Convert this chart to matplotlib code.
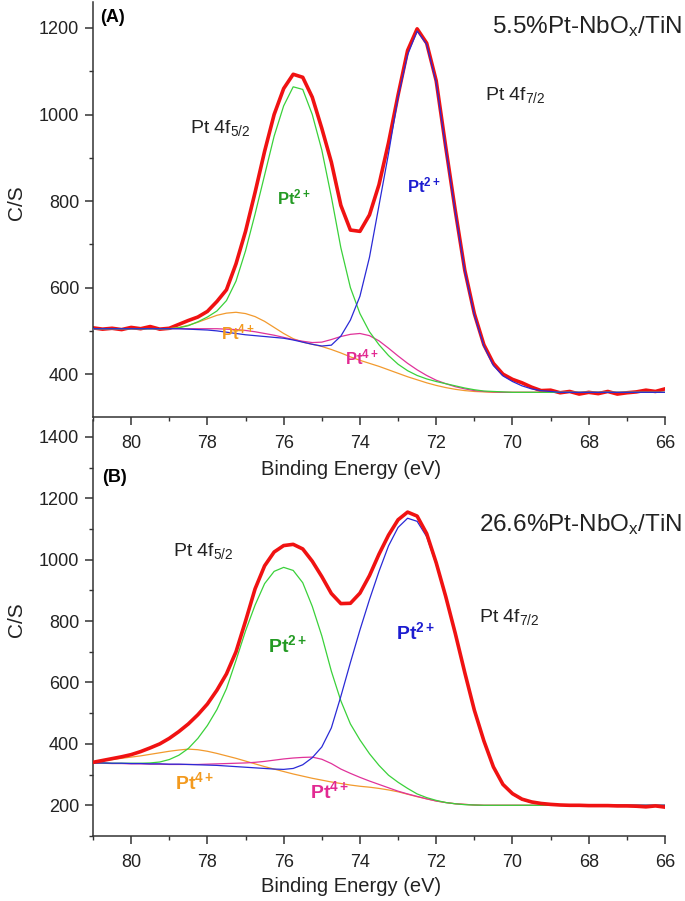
import numpy as np
import matplotlib
matplotlib.use("Agg")
import matplotlib.pyplot as plt
from matplotlib.ticker import MultipleLocator

plt.rcParams['font.family'] = ['Liberation Sans', 'DejaVu Sans']
plt.rcParams['mathtext.fontset'] = 'custom'
plt.rcParams['mathtext.rm'] = 'Liberation Sans'
plt.rcParams['mathtext.it'] = 'Liberation Sans:italic'
plt.rcParams['mathtext.bf'] = 'Liberation Sans:bold'
plt.rcParams['lines.solid_joinstyle'] = 'round'

# binding energy grid (eV), 81 -> 66 in 0.25 steps
energy = np.arange(81, 65.99, -0.25)

# ---- panel A: 5.5%Pt-NbOx/TiN ----
a_total = [507, 504, 506, 503, 508, 505, 510, 504, 506, 515, 524, 532, 545, 568, 595,
           655, 730, 820, 915, 1000, 1060, 1093, 1086, 1040, 968, 890, 790, 733, 730, 768,
           838, 935, 1045, 1148, 1198, 1165, 1078, 925, 778, 640, 540, 468, 425, 400, 388,
           380, 370, 362, 363, 357, 360, 354, 358, 355, 360, 354, 357, 359, 363, 360, 366]
a_pt2_52 = [505, 505, 505, 505, 505, 505, 505, 505, 505, 507, 512, 521, 532, 546, 570,
            615, 685, 770, 860, 950, 1020, 1064, 1058, 1000, 918, 810, 692, 600, 540, 498,
            468, 443, 423, 408, 397, 389, 383, 378, 373, 368, 364, 361, 360, 359, 358,
            358, 358, 358, 358, 358, 358, 358, 358, 358, 358, 358, 358, 358, 358, 358, 358]
a_pt2_72 = [505, 505, 505, 505, 505, 505, 505, 505, 505, 505, 504, 503, 502, 500, 497,
            494, 491, 489, 487, 485, 483, 479, 474, 469, 465, 467, 488, 525, 580, 670,
            790, 910, 1040, 1138, 1193, 1162, 1074, 922, 775, 638, 537, 465, 420, 396, 383,
            373, 366, 362, 360, 358, 358, 358, 358, 358, 358, 358, 358, 358, 358, 358, 358]
a_pt4_52 = [505, 505, 505, 505, 505, 505, 505, 505, 505, 508, 513, 520, 528, 536, 541,
            543, 540, 533, 522, 508, 494, 482, 474, 469, 464, 457, 449, 440, 432, 425,
            418, 410, 402, 394, 387, 380, 374, 369, 365, 362, 360, 359, 358, 358, 358,
            358, 358, 358, 358, 358, 358, 358, 358, 358, 358, 358, 358, 358, 358, 358, 358]
a_pt4_72 = [505, 505, 505, 505, 505, 505, 505, 505, 505, 505, 505, 505, 505, 505, 504,
            503, 501, 498, 494, 490, 485, 480, 476, 473, 474, 480, 487, 492, 494, 489,
            477, 460, 442, 425, 410, 397, 386, 378, 371, 366, 362, 360, 359, 358, 358,
            358, 358, 358, 358, 358, 358, 358, 358, 358, 358, 358, 358, 358, 358, 358, 358]

# ---- panel B: 26.6%Pt-NbOx/TiN ----
b_total = [340, 346, 352, 358, 365, 375, 387, 400, 418, 440, 465, 495, 530, 575, 628,
           700, 800, 905, 980, 1025, 1046, 1050, 1035, 995, 945, 890, 857, 858, 891, 948,
           1018, 1080, 1130, 1155, 1142, 1085, 990, 880, 760, 632, 510, 410, 325, 268, 238,
           220, 211, 206, 203, 201, 200, 200, 199, 199, 199, 198, 198, 197, 195, 198, 194]
b_pt2_52 = [338, 338, 337, 337, 337, 337, 338, 341, 349, 363, 385, 418, 460, 512, 580,
            672, 768, 852, 922, 962, 975, 965, 925, 848, 752, 637, 540, 465, 413, 368,
            330, 298, 275, 255, 237, 225, 216, 209, 205, 202, 201, 200, 200, 200, 200,
            200, 200, 200, 200, 200, 200, 200, 200, 200, 200, 200, 200, 200, 200, 200, 200]
b_pt2_72 = [338, 338, 337, 337, 336, 336, 335, 335, 334, 334, 333, 332, 331, 330, 328,
            326, 324, 322, 320, 318, 317, 320, 332, 355, 390, 452, 555, 665, 771, 870,
            962, 1045, 1105, 1135, 1125, 1075, 985, 876, 757, 630, 508, 407, 323, 266, 236,
            218, 209, 204, 202, 201, 200, 200, 200, 200, 200, 200, 200, 200, 200, 200, 200]
b_pt4_52 = [341, 345, 349, 353, 357, 361, 366, 371, 376, 380, 383, 381, 376, 369, 361,
            353, 344, 335, 326, 318, 310, 302, 295, 288, 282, 276, 271, 266, 262, 259,
            255, 250, 244, 236, 228, 221, 214, 209, 205, 203, 201, 200, 200, 200, 200,
            200, 200, 200, 200, 200, 200, 200, 200, 200, 200, 200, 200, 200, 200, 200, 200]
b_pt4_72 = [337, 337, 336, 336, 335, 335, 334, 334, 333, 333, 333, 333, 334, 335, 336,
            337, 338, 340, 343, 347, 351, 354, 356, 357, 350, 336, 318, 304, 291, 279,
            268, 257, 246, 237, 229, 221, 214, 209, 205, 203, 201, 200, 200, 200, 200,
            200, 200, 200, 200, 200, 200, 200, 200, 200, 200, 200, 200, 200, 200, 200, 200]

RED = '#f01212'
GREEN_LINE, GREEN_TXT = '#3ad13a', '#239a23'
BLUE_LINE, BLUE_TXT = '#2a2ad6', '#1c1cd0'
ORANGE_LINE, ORANGE_TXT = '#f29a2e', '#f39a1e'
MAGENTA_LINE, MAGENTA_TXT = '#e0329a', '#e22a92'
AXC = '#333333'

W, H = 685, 901
fig = plt.figure(figsize=(W / 100, H / 100), dpi=100)


def px_rect(left, top, right, bottom):
    return [left / W, 1 - bottom / H, (right - left) / W, (bottom - top) / H]


def style_axes(ax, ylim, ymajor):
    ax.set_xlim(81, 66)
    ax.set_ylim(*ylim)
    ax.xaxis.set_major_locator(MultipleLocator(2))
    ax.xaxis.set_minor_locator(MultipleLocator(1))
    ax.yaxis.set_minor_locator(MultipleLocator(100))
    ax.set_yticks(ymajor)
    for s in ['top', 'right']:
        ax.spines[s].set_visible(False)
    for s in ['left', 'bottom']:
        ax.spines[s].set_linewidth(1.1)
        ax.spines[s].set_color(AXC)
    ax.tick_params(which='major', direction='out', length=6, width=1.1, color=AXC,
                   labelsize=13, labelcolor='#222222')
    ax.tick_params(which='minor', direction='out', length=3, width=1.0, color=AXC)
    ax.tick_params(axis='x', pad=7)
    ax.tick_params(axis='y', pad=4)
    ax.set_xlabel('Binding Energy (eV)', fontsize=14.5, color='#222222')
    ax.set_ylabel('C/S', fontsize=15, color='#222222')
    ax.patch.set_visible(False)


# panel B first so that panel A's labels sit on top
axB = fig.add_axes(px_rect(93, 420, 665, 836))
axA = fig.add_axes(px_rect(93, 2, 665, 417))

# --- A ---
axA.plot(energy, a_total, color=RED, lw=2.6, zorder=2)
axA.plot(energy, a_pt4_52, color=ORANGE_LINE, lw=0.9, zorder=3)
axA.plot(energy, a_pt4_72, color=MAGENTA_LINE, lw=0.9, zorder=3)
axA.plot(energy, a_pt2_52, color=GREEN_LINE, lw=0.9, zorder=3)
axA.plot(energy, a_pt2_72, color=BLUE_LINE, lw=0.9, zorder=3)
style_axes(axA, (301, 1260), [400, 600, 800, 1000, 1200])
axA.xaxis.set_label_coords(0.451, -0.103)
axA.yaxis.set_label_coords(-0.117, 0.516)

# --- B ---
axB.plot(energy, b_pt4_52, color=ORANGE_LINE, lw=0.9, zorder=2)
axB.plot(energy, b_pt4_72, color=MAGENTA_LINE, lw=0.9, zorder=2)
axB.plot(energy, b_pt2_52, color=GREEN_LINE, lw=0.9, zorder=2)
axB.plot(energy, b_pt2_72, color=BLUE_LINE, lw=0.9, zorder=2)
axB.plot(energy, b_total, color=RED, lw=2.6, zorder=3)
style_axes(axB, (100, 1455), [200, 400, 600, 800, 1000, 1200, 1400])
axB.xaxis.set_label_coords(0.451, -0.099)
axB.yaxis.set_label_coords(-0.117, 0.519)


def ftext(x, y, s, **kw):
    # place text at pixel position of the reference picture
    fig.text(x / W, 1 - y / H, s, **kw)


# panel A annotations
ftext(113, 18, '(A)', fontsize=13, fontweight='bold', ha='center', va='center')
ftext(682, 27, '5.5%Pt-NbO$_{\\mathrm{x}}$/TiN', fontsize=17.5, ha='right', va='center', color='#222222')
ftext(190, 128, 'Pt 4f$_{\\mathrm{5/2}}$', fontsize=14, ha='left', va='center', color='#222222')
ftext(485, 95, 'Pt 4f$_{\\mathrm{7/2}}$', fontsize=14, ha='left', va='center', color='#222222')
ftext(294, 197, '$\\mathbf{Pt^{2+}}$', fontsize=12, ha='center', va='center', color=GREEN_TXT)
ftext(424, 185, '$\\mathbf{Pt^{2+}}$', fontsize=12, ha='center', va='center', color=BLUE_TXT)
ftext(238, 332, '$\\mathbf{Pt^{4+}}$', fontsize=12, ha='center', va='center', color=ORANGE_TXT)
ftext(362, 357, '$\\mathbf{Pt^{4+}}$', fontsize=12, ha='center', va='center', color=MAGENTA_TXT)

# panel B annotations
ftext(115, 477, '(B)', fontsize=13, fontweight='bold', ha='center', va='center')
ftext(682, 525, '26.6%Pt-NbO$_{\\mathrm{x}}$/TiN', fontsize=17.5, ha='right', va='center', color='#222222')
ftext(173, 551, 'Pt 4f$_{\\mathrm{5/2}}$', fontsize=14, ha='left', va='center', color='#222222')
ftext(479, 617, 'Pt 4f$_{\\mathrm{7/2}}$', fontsize=14, ha='left', va='center', color='#222222')
ftext(288, 645, '$\\mathbf{Pt^{2+}}$', fontsize=14, ha='center', va='center', color=GREEN_TXT)
ftext(416, 632, '$\\mathbf{Pt^{2+}}$', fontsize=14, ha='center', va='center', color=BLUE_TXT)
ftext(195, 782, '$\\mathbf{Pt^{4+}}$', fontsize=14, ha='center', va='center', color=ORANGE_TXT)
ftext(330, 791, '$\\mathbf{Pt^{4+}}$', fontsize=14, ha='center', va='center', color=MAGENTA_TXT)

fig.savefig('out.png', dpi=100)
